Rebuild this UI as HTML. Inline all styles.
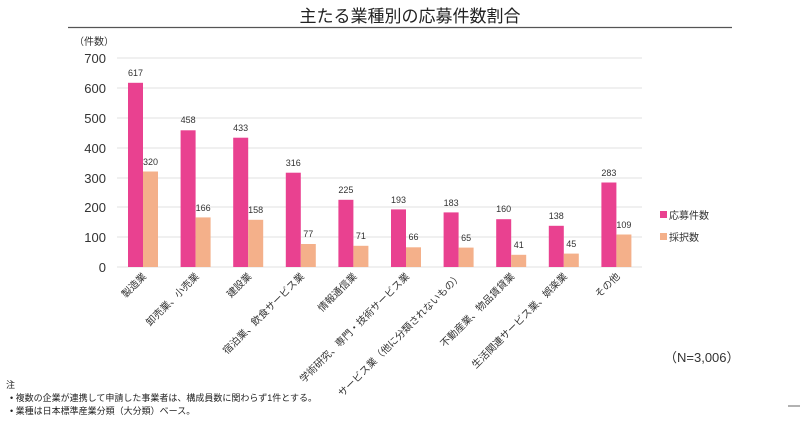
<!DOCTYPE html>
<html><head><meta charset="utf-8"><style>
body{margin:0;background:#fff;}
svg text{font-family:"Liberation Sans","Noto Sans CJK JP",sans-serif;}
</style></head><body>
<svg width="800" height="423" xmlns="http://www.w3.org/2000/svg">
<text x="410" y="22" font-size="17" text-anchor="middle" fill="#222">主たる業種別の応募件数割合</text>
<line x1="68" y1="27.5" x2="732" y2="27.5" stroke="#555" stroke-width="1.2"/>
<text x="74" y="45" font-size="10" fill="#333">（件数）</text>
<g stroke="#e2e2e2" stroke-width="1">
<line x1="117" x2="642" y1="58" y2="58"/><line x1="117" x2="642" y1="88" y2="88"/>
<line x1="117" x2="642" y1="118" y2="118"/><line x1="117" x2="642" y1="148" y2="148"/>
<line x1="117" x2="642" y1="178" y2="178"/><line x1="117" x2="642" y1="207" y2="207"/>
<line x1="117" x2="642" y1="237" y2="237"/><line x1="117" x2="642" y1="267" y2="267"/>
</g>
<g font-size="13" fill="#333" text-anchor="end">
<text x="106" y="63">700</text><text x="106" y="93">600</text><text x="106" y="123">500</text>
<text x="106" y="153">400</text><text x="106" y="183">300</text><text x="106" y="212">200</text>
<text x="106" y="242">100</text><text x="106" y="272">0</text>
</g>
<g fill="#e94190">
<rect x="128" y="82.8" width="15" height="184.2"/>
<rect x="180.6" y="130.3" width="15" height="136.7"/>
<rect x="233.2" y="137.7" width="15" height="129.3"/>
<rect x="285.8" y="172.7" width="15" height="94.3"/>
<rect x="338.4" y="199.8" width="15" height="67.2"/>
<rect x="391" y="209.4" width="15" height="57.6"/>
<rect x="443.6" y="212.4" width="15" height="54.6"/>
<rect x="496.2" y="219.2" width="15" height="47.8"/>
<rect x="548.8" y="225.8" width="15" height="41.2"/>
<rect x="601.4" y="182.5" width="15" height="84.5"/>
</g>
<g fill="#f4b08a">
<rect x="143" y="171.5" width="15" height="95.5"/>
<rect x="195.6" y="217.4" width="15" height="49.6"/>
<rect x="248.2" y="219.8" width="15" height="47.2"/>
<rect x="300.8" y="244" width="15" height="23"/>
<rect x="353.4" y="245.8" width="15" height="21.2"/>
<rect x="406" y="247.3" width="15" height="19.7"/>
<rect x="458.6" y="247.6" width="15" height="19.4"/>
<rect x="511.2" y="254.8" width="15" height="12.2"/>
<rect x="563.8" y="253.6" width="15" height="13.4"/>
<rect x="616.4" y="234.5" width="15" height="32.5"/>
</g>
<g font-size="9" fill="#333" text-anchor="middle">
<text x="135.5" y="76">617</text><text x="150.5" y="165">320</text>
<text x="188.1" y="123">458</text><text x="203.1" y="211">166</text>
<text x="240.7" y="131">433</text><text x="255.7" y="213">158</text>
<text x="293.3" y="166">316</text><text x="308.3" y="237">77</text>
<text x="345.9" y="193">225</text><text x="360.9" y="239">71</text>
<text x="398.5" y="203">193</text><text x="413.5" y="240">66</text>
<text x="451.1" y="206">183</text><text x="466.1" y="241">65</text>
<text x="503.7" y="212">160</text><text x="518.7" y="248">41</text>
<text x="556.3" y="219">138</text><text x="571.3" y="247">45</text>
<text x="608.9" y="176">283</text><text x="623.9" y="228">109</text>
</g>
<g font-size="10" fill="#333" text-anchor="end">
<text transform="translate(147,277) rotate(-45)">製造業</text>
<text transform="translate(199.6,277) rotate(-45)">卸売業、小売業</text>
<text transform="translate(252.2,277) rotate(-45)">建設業</text>
<text transform="translate(304.8,277) rotate(-45)">宿泊業、飲食サービス業</text>
<text transform="translate(357.4,277) rotate(-45)">情報通信業</text>
<text transform="translate(410,277) rotate(-45)">学術研究、専門・技術サービス業</text>
<text transform="translate(462.6,277) rotate(-45)">サービス業（他に分類されないもの）</text>
<text transform="translate(515.2,277) rotate(-45)">不動産業、物品賃貸業</text>
<text transform="translate(567.8,277) rotate(-45)">生活関連サービス業、娯楽業</text>
<text transform="translate(620.4,277) rotate(-45)">その他</text>
</g>
<g font-size="10" fill="#333">
<text x="669" y="219">応募件数</text>
<text x="669" y="241">採択数</text>
</g>
<rect x="660" y="211" width="7" height="7" fill="#e94190"/>
<rect x="660" y="233" width="7" height="7" fill="#f4b08a"/>
<text x="664" y="362" font-size="13" fill="#333">（N=3,006）</text>
<g font-size="9" fill="#222">
<text x="6" y="388">注</text>
<text x="10" y="401">• 複数の企業が連携して申請した事業者は、構成員数に関わらず1件とする。</text>
<text x="10" y="414">• 業種は日本標準産業分類（大分類）ベース。</text>
</g>
<line x1="788" y1="406" x2="800" y2="406" stroke="#666"/>
</svg>
</body></html>
